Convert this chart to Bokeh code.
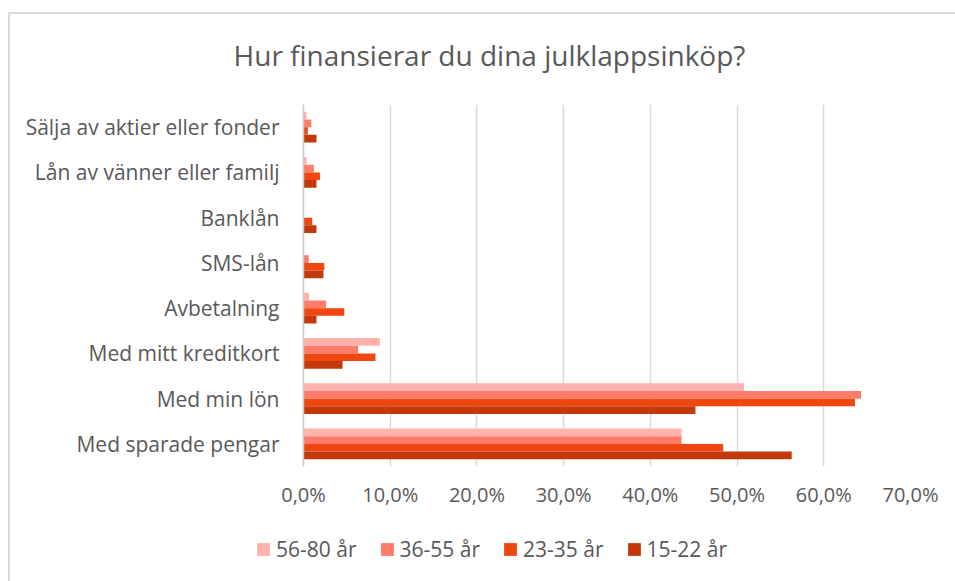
from bokeh.plotting import figure
from bokeh.layouts import column
from bokeh.models import FactorRange, Range1d, Legend, LegendItem, Label, FixedTicker, CustomJSTickFormatter
from bokeh.transform import dodge
from bokeh.embed import file_html
from bokeh.resources import INLINE

categories = ["Med sparade pengar", "Med min lön", "Med mitt kreditkort", "Avbetalning",
              "SMS-lån", "Banklån", "Lån av vänner eller familj", "Sälja av aktier eller fonder"]
series_names = ["56-80 år", "36-55 år", "23-35 år", "15-22 år"]
age_56_80 = [43.6, 50.8, 8.8, 0.65, 0.0, 0.0, 0.35, 0.35]
age_36_55 = [43.6, 64.3, 6.3, 2.6, 0.6, 0.0, 1.2, 0.9]
age_23_35 = [48.4, 63.6, 8.3, 4.7, 2.4, 1.0, 1.9, 0.5]
age_15_22 = [56.3, 45.2, 4.5, 1.5, 2.3, 1.5, 1.5, 1.5]
colors = ["#FFB3AC", "#FF7B6A", "#EF4710", "#C4390B"]
x_ticks = [0, 10, 20, 30, 40, 50, 60, 70]
title_text = "Hur finansierar du dina julklappsinköp?"

FONT = "Open Sans"
TXT = "#595959"


def no_align(fig):
    if "frame_align" in fig.properties():
        fig.frame_align = False


data = dict(cat=categories, a=age_56_80, b=age_36_55, c=age_23_35, d=age_15_22)
offsets = [0.255, 0.085, -0.085, -0.255]
keys = ["a", "b", "c", "d"]

# ---- title strip
tf = figure(width=945, height=90, x_range=Range1d(0, 945), y_range=Range1d(0, 90),
            output_backend="svg", toolbar_location=None,
            x_axis_location=None, y_axis_location=None,
            min_border_left=0, min_border_right=0, min_border_top=0, min_border_bottom=0)
no_align(tf)
tf.outline_line_color = None
tf.xgrid.grid_line_color = None
tf.ygrid.grid_line_color = None
tf.add_layout(Label(x=479, y=50, text=title_text, text_align="center", text_baseline="middle",
                    text_font=FONT, text_font_size="28px", text_color=TXT))

# ---- main chart
p = figure(y_range=FactorRange(*categories), x_range=(0, 70),
           width=945, height=416,
           output_backend="svg", toolbar_location=None,
           min_border_left=293, min_border_right=45, min_border_top=0, min_border_bottom=54)
no_align(p)
p.outline_line_color = None
p.background_fill_color = "white"
p.border_fill_color = "white"

for k, off, col in zip(keys, offsets, colors):
    p.hbar(y=dodge("cat", off, range=p.y_range), right=k, left=0, height=0.17,
           source=data, fill_color=col, line_color=None)

p.xaxis.ticker = FixedTicker(ticks=x_ticks)
p.xaxis.formatter = CustomJSTickFormatter(code="return tick.toFixed(1).replace('.', ',') + '%';")
p.xaxis.axis_line_color = None
p.xaxis.major_tick_line_color = None
p.xaxis.minor_tick_line_color = None
p.xaxis.major_tick_out = 0
p.xaxis.major_label_text_font = FONT
p.xaxis.major_label_text_font_size = "20px"
p.xaxis.major_label_text_color = TXT
p.xaxis.major_label_standoff = 14

p.yaxis.axis_line_color = "#C8C8C8"
p.yaxis.axis_line_width = 1.5
p.yaxis.major_tick_line_color = None
p.yaxis.minor_tick_line_color = None
p.yaxis.major_tick_out = 0
p.yaxis.major_label_text_font = FONT
p.yaxis.major_label_text_font_size = "21px"
p.yaxis.major_label_text_color = TXT
p.yaxis.major_label_standoff = 24

p.xgrid.grid_line_color = "#D9D9D9"
p.xgrid.grid_line_width = 1.5
p.ygrid.grid_line_color = None

# ---- legend strip (same series, bars kept outside its visible range)
lf = figure(width=945, height=61, x_range=Range1d(-2, -1), y_range=FactorRange(*categories),
            output_backend="svg", toolbar_location=None,
            x_axis_location=None, y_axis_location=None,
            min_border_left=0, min_border_right=0, min_border_top=0, min_border_bottom=0)
no_align(lf)
lf.outline_line_color = None
lf.xgrid.grid_line_color = None
lf.ygrid.grid_line_color = None
leg_renderers = []
for k, off, col in zip(keys, offsets, colors):
    leg_renderers.append(lf.hbar(y=dodge("cat", off, range=lf.y_range), right=k, left=0, height=0.17,
                                 source=data, fill_color=col, line_color=None))

legend = Legend(items=[LegendItem(label=n, renderers=[r]) for n, r in zip(series_names, leg_renderers)],
                orientation="horizontal", location=(245, 18))
legend.label_text_font = FONT
legend.label_text_font_size = "21px"
legend.label_text_color = TXT
legend.glyph_width = 16
legend.glyph_height = 16
legend.label_height = 20
legend.label_standoff = 5
legend.spacing = 22
legend.padding = 0
legend.margin = 0
legend.border_line_color = None
legend.background_fill_alpha = 0
lf.add_layout(legend)

layout = column(tf, p, lf, spacing=0, margin=(12, 0, 0, 8),
                styles={"border-top": "2px solid #D9D9D9", "border-left": "2px solid #D9D9D9"})

open("out.html", "w").write(file_html(layout, INLINE))
